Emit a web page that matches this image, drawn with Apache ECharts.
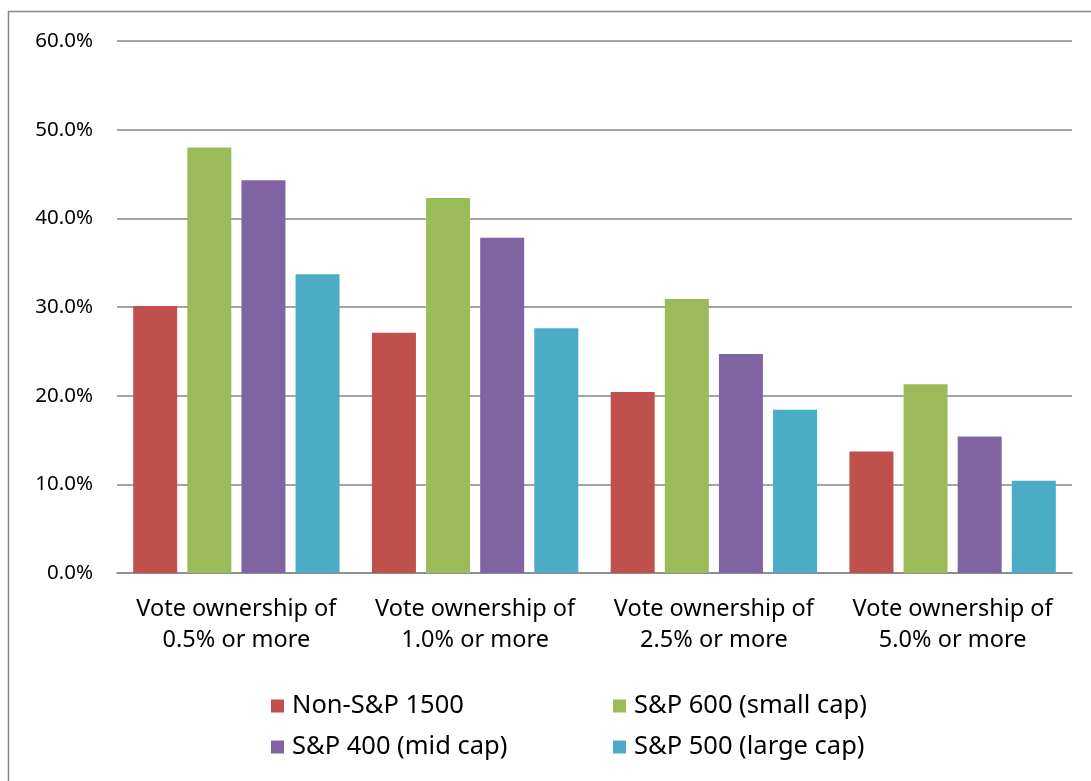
<!DOCTYPE html>
<html>
<head>
<meta charset="utf-8">
<script src="https://cdn.jsdelivr.net/npm/echarts@6/dist/echarts.min.js"></script>
<style>
  html, body { margin: 0; padding: 0; background: #fff; }
  #chart { width: 1091px; height: 781px; }
</style>
</head>
<body>
<div id="chart"></div>
<script>
  var categories = [
    'Vote ownership of\n0.5% or more',
    'Vote ownership of\n1.0% or more',
    'Vote ownership of\n2.5% or more',
    'Vote ownership of\n5.0% or more'
  ]
  var seriesNames = ['Non-S&P 1500', 'S&P 600 (small cap)', 'S&P 400 (mid cap)', 'S&P 500 (large cap)']
  var nonSP1500 = [30.1, 27.1, 20.4, 13.7]
  var sp600 = [48.0, 42.3, 30.9, 21.3]
  var sp400 = [44.3, 37.8, 24.7, 15.4]
  var sp500 = [33.7, 27.6, 18.4, 10.4]
  var colors = ['#c0504d', '#9bbb59', '#8064a2', '#4bacc6']

  var font = 'Noto Sans'
  var chart = echarts.init(document.getElementById('chart'))

  var values = [nonSP1500, sp600, sp400, sp500]

  chart.setOption({
    animation: false,
    color: colors,
    graphic: [{
      type: 'rect',
      shape: { x: 8.5, y: 11.5, width: 1200, height: 1000 },
      style: { fill: 'none', stroke: '#868686', lineWidth: 1.5 },
      silent: true
    }],
    grid: { left: 117, right: 19, top: 41, bottom: 208 },
    legend: {
      left: 266,
      top: 688,
      width: 690,
      itemWidth: 13,
      itemHeight: 13,
      itemGap: 15,
      icon: 'rect',
      textStyle: {
        fontFamily: font, fontSize: 25.5, color: '#000',
        width: 306, lineHeight: 19, padding: [0, 0, 0, 3]
      },
      data: seriesNames
    },
    xAxis: {
      type: 'category',
      data: categories,
      axisLine: { lineStyle: { color: '#868686', width: 1.5 } },
      axisTick: { show: false },
      axisLabel: {
        interval: 0, fontFamily: font, fontSize: 23.5, color: '#000',
        lineHeight: 31, margin: 21
      }
    },
    yAxis: {
      type: 'value',
      min: 0,
      max: 60,
      interval: 10,
      axisLine: { show: false },
      axisTick: { show: false },
      splitLine: { lineStyle: { color: '#868686', width: 1.5 } },
      axisLabel: {
        fontFamily: font, fontSize: 20.5, color: '#000', margin: 24,
        formatter: function(v) { return v.toFixed(1) + '%' }
      }
    },
    series: seriesNames.map(function(name, i) {
      return {
        name: name,
        type: 'bar',
        data: values[i],
        barWidth: 44,
        barGap: '23%',
        itemStyle: { color: colors[i] }
      }
    })
  })
</script>
</body>
</html>
